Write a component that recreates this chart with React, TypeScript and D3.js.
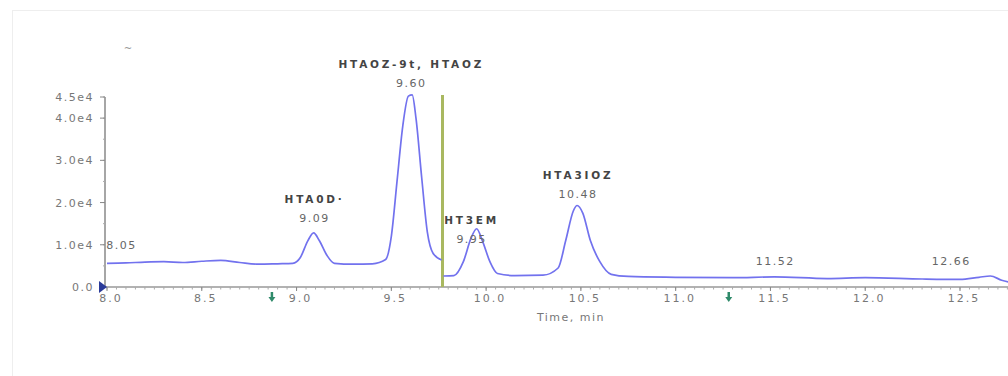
import * as d3 from "d3";

// chromatogram trace, [time min, intensity cps]; split at the period marker
const traceA: [number, number][] = [
    [8.0, 5600], [8.1, 5700], [8.2, 5900], [8.3, 6000], [8.4, 5800], [8.5, 6100],
    [8.6, 6300], [8.7, 5800], [8.8, 5400], [8.9, 5500], [8.98, 5600], [9.02, 7000],
    [9.06, 11000], [9.09, 12800], [9.12, 11000], [9.16, 7500], [9.2, 5600], [9.3, 5400],
    [9.4, 5500], [9.47, 6500], [9.5, 12000], [9.53, 25000], [9.56, 38000], [9.59, 45200],
    [9.61, 45500], [9.63, 40000], [9.66, 26000], [9.69, 13000], [9.72, 8000], [9.765, 6400],
]
const traceB: [number, number][] = [
    [9.775, 2600], [9.83, 2700], [9.88, 6000], [9.92, 11500], [9.95, 13800], [9.98, 11000],
    [10.02, 6000], [10.06, 3200], [10.15, 2700], [10.3, 2800], [10.38, 4500], [10.42, 11000],
    [10.46, 18000], [10.48, 19300], [10.51, 17500], [10.55, 11000], [10.6, 6000], [10.66, 3000],
    [10.75, 2500], [11.0, 2300], [11.3, 2200], [11.52, 2400], [11.8, 2000], [12.0, 2200],
    [12.3, 1900], [12.5, 1800], [12.6, 2300], [12.66, 2600], [12.72, 1600], [12.78, 900],
]

const periodTime = 9.77
const yTicks = [0, 10000, 20000, 30000, 40000, 45000]
const yTickLabels = ["0.0", "1.0e4", "2.0e4", "3.0e4", "4.0e4", "4.5e4"]
const xTicks = [8.0, 8.5, 9.0, 9.5, 10.0, 10.5, 11.0, 11.5, 12.0, 12.5]

// peak annotations: retention time, label, height, compound name
const peakTimes = [8.05, 9.09, 9.6, 9.95, 10.48, 11.52, 12.66]
const peakLabels = ["8.05", "9.09", "9.60", "9.95", "10.48", "11.52", "12.66"]
const peakValues = [7200, 13500, 45500, 8500, 19300, 3200, 3200]
const peakNames = ["", "HTA0D·", "HTAOZ-9t, HTAOZ", "HT3EM", "HTA3IOZ", "", ""]
const arrowTimes = [8.87, 11.28]

const W = 1008, H = 376

export default function App() {
    const x = d3.scaleLinear().domain([8.0, 12.5]).range([107, 960])
    const y = d3.scaleLinear().domain([0, 45000]).range([287, 97])
    const line = d3.line<[number, number]>().x(d => x(d[0])).y(d => y(d[1])).curve(d3.curveMonotoneX)

    const minorX = d3.range(8.0, 12.76, 0.05)
    const minorY = d3.range(0, 45001, 5000)

    return <svg width={W} height={H} style={{position: "absolute", left: 0, top: 0, background: "#fff"}}
                fontFamily="'DejaVu Sans', sans-serif">
        <rect x={12.5} y={10.5} width={1010} height={380} fill="none" stroke="#eeeeee"/>
        <text x={128} y={52} fontSize={10} fill="#999" textAnchor="middle">~</text>

        {/* y axis */}
        <line x1={105} x2={105} y1={97} y2={287} stroke="#888" strokeWidth={1.5}/>
        {minorY.map((v, i) => <line key={"my" + i} x1={103} x2={105} y1={y(v)} y2={y(v)} stroke="#aaa"/>)}
        {yTicks.map((v, i) => <g key={"y" + i}>
            <line x1={100} x2={105} y1={y(v)} y2={y(v)} stroke="#888"/>
            <text x={94} y={y(v) + 4} fontSize={11} letterSpacing={1.5} fill="#777"
                  textAnchor="end">{yTickLabels[i]}</text>
        </g>)}

        {/* x axis */}
        <line x1={105} x2={1008} y1={287} y2={287} stroke="#999" strokeWidth={1.5}/>
        {minorX.map((t, i) => <line key={"mx" + i} x1={x(t)} x2={x(t)} y1={287} y2={289.5} stroke="#aaa"/>)}
        {xTicks.map((t, i) => <g key={"x" + i}>
            <line x1={x(t)} x2={x(t)} y1={287} y2={291} stroke="#888"/>
            <text x={x(t) + 4} y={302} fontSize={11} letterSpacing={2} fill="#777"
                  textAnchor="middle">{t.toFixed(1)}</text>
        </g>)}
        <text x={571} y={321} fontSize={11} letterSpacing={1.5} fill="#777" textAnchor="middle">Time, min</text>

        {/* period marker */}
        <line x1={x(periodTime)} x2={x(periodTime)} y1={95} y2={287} stroke="#a9b860" strokeWidth={3}/>

        {/* trace */}
        <path d={line(traceA) ?? ""} fill="none" stroke="#7272ee" strokeWidth={1.7}/>
        <path d={line(traceB) ?? ""} fill="none" stroke="#7272ee" strokeWidth={1.7}/>

        {/* markers */}
        <path d={`M${99},${281} L${107},${287} L${99},${293} Z`} fill="#2a3a99"/>
        {arrowTimes.map((t, i) => <g key={"a" + i} fill="#2f8a6a" stroke="#2f8a6a">
            <line x1={x(t)} x2={x(t)} y1={292} y2={299} strokeWidth={2.5}/>
            <path d={`M${x(t) - 3.5},${297} L${x(t) + 3.5},${297} L${x(t)},${302} Z`} stroke="none"/>
        </g>)}

        {/* peak labels */}
        {peakTimes.map((t, i) => {
            const px = i === 0 ? x(t) + 4 : i === 3 ? x(t) - 6 : i === 6 ? x(t) - 40 : x(t)
            const py = y(peakValues[i]) - 8
            return <g key={"p" + i}>
                <text x={px + 1} y={py} fontSize={11} letterSpacing={1.5} fill="#666"
                      textAnchor="middle">{peakLabels[i]}</text>
                {peakNames[i] && <text x={px + 1} y={py - 19} fontSize={10.5} letterSpacing={2.8} fontWeight="bold"
                                       fill="#444" textAnchor="middle">{peakNames[i]}</text>}
            </g>
        })}
    </svg>
}
